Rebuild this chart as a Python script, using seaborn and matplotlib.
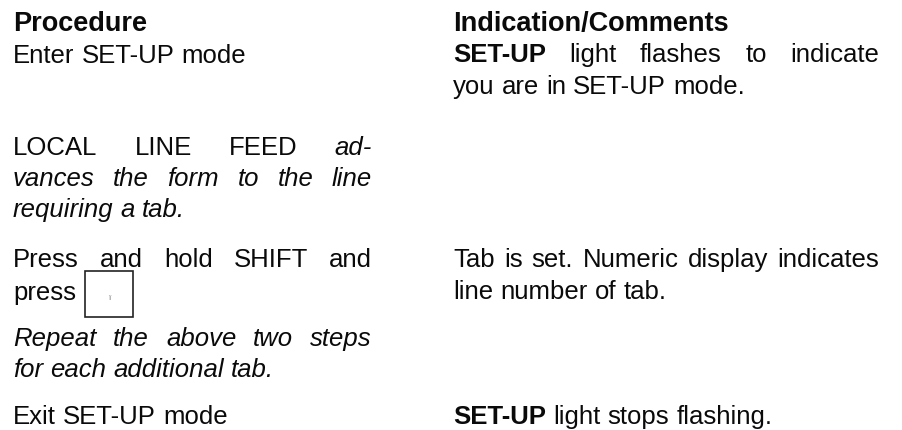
import matplotlib
matplotlib.use("Agg")
import matplotlib.pyplot as plt
from matplotlib.patches import Rectangle
import seaborn as sns

sns.set_theme(style="white")
plt.rcParams['font.family'] = ['Liberation Sans', 'DejaVu Sans']

W, H = 902, 431
FS = 18.5
HEAD_FS = 19.5
INK = "#0a0a0a"

# column left edges / right edges (pixels)
col_left = [13, 453]
col_right = [372, 879]

headers = ["Procedure", "Indication/Comments"]
header_y = 31

# (baseline, justify, [(text, style)])  style: n normal, i italic, b bold
left_lines = [
    (63, False, [("Enter SET-UP mode", "n")]),
    (155, True, [("LOCAL LINE FEED", "n"), ("ad-", "i")]),
    (186, True, [("vances the form to the line", "i")]),
    (217, False, [("requiring a tab.", "i")]),
    (267, True, [("Press and hold SHIFT and", "n")]),
    (300, False, [("press", "n")]),
    (346, True, [("Repeat the above two steps", "i")]),
    (377, False, [("for each additional tab.", "i")]),
    (424, False, [("Exit SET-UP mode", "n")]),
]
right_lines = [
    (62, True, [("SET-UP", "b"), ("light flashes to indicate", "n")]),
    (94, False, [("you are in SET-UP mode.", "n")]),
    (267, True, [("Tab is set. Numeric display indicates", "n")]),
    (299, False, [("line number of tab.", "n")]),
    (424, False, [("SET-UP", "b"), ("light stops flashing.", "n")]),
]

# key-cap drawn after "press"
key_box = (85, 272, 48, 46)
key_label = "ï"

STYLES = {"n": dict(fontweight="normal", fontstyle="normal"),
          "i": dict(fontweight="normal", fontstyle="italic"),
          "b": dict(fontweight="bold", fontstyle="normal")}

fig = plt.figure(figsize=(W / 100, H / 100), dpi=100)
ax = fig.add_axes([0, 0, 1, 1])
ax.set_xlim(0, W)
ax.set_ylim(H, 0)
ax.axis("off")
renderer = fig.canvas.get_renderer()


def width_of(t):
    return t.get_window_extent(renderer=renderer).width


# width of one word space at body size
_a = ax.text(0, 200, "a a", fontsize=FS)
_b = ax.text(0, 200, "aa", fontsize=FS)
SPACE = width_of(_a) - width_of(_b)
_a.remove()
_b.remove()


def draw_line(col, y, justify, segs):
    words = []
    for txt, st in segs:
        for w in txt.split(" "):
            words.append((w, st))
    arts = [ax.text(col_left[col], y, w, fontsize=FS, va="baseline",
                    ha="left", color=INK, **STYLES[st]) for w, st in words]
    widths = [width_of(a) for a in arts]
    if justify and len(arts) > 1:
        gap = (col_right[col] - col_left[col] - sum(widths)) / (len(arts) - 1)
    else:
        gap = SPACE
    x = col_left[col]
    for a, w in zip(arts, widths):
        a.set_x(x)
        x += w + gap


for i, h in enumerate(headers):
    ax.text(col_left[i], header_y, h, fontsize=HEAD_FS, fontweight="bold",
            va="baseline", ha="left", color=INK)

for y, j, segs in left_lines:
    draw_line(0, y, j, segs)
for y, j, segs in right_lines:
    draw_line(1, y, j, segs)

bx, by, bw, bh = key_box
ax.add_patch(Rectangle((bx, by), bw, bh, fill=False, ec="#222222", lw=1.2))
ax.text(bx + bw / 2, by + bh / 2 + 4, key_label, fontsize=6, color="#777777",
        ha="center", va="center")

fig.savefig("out.png", dpi=100)
